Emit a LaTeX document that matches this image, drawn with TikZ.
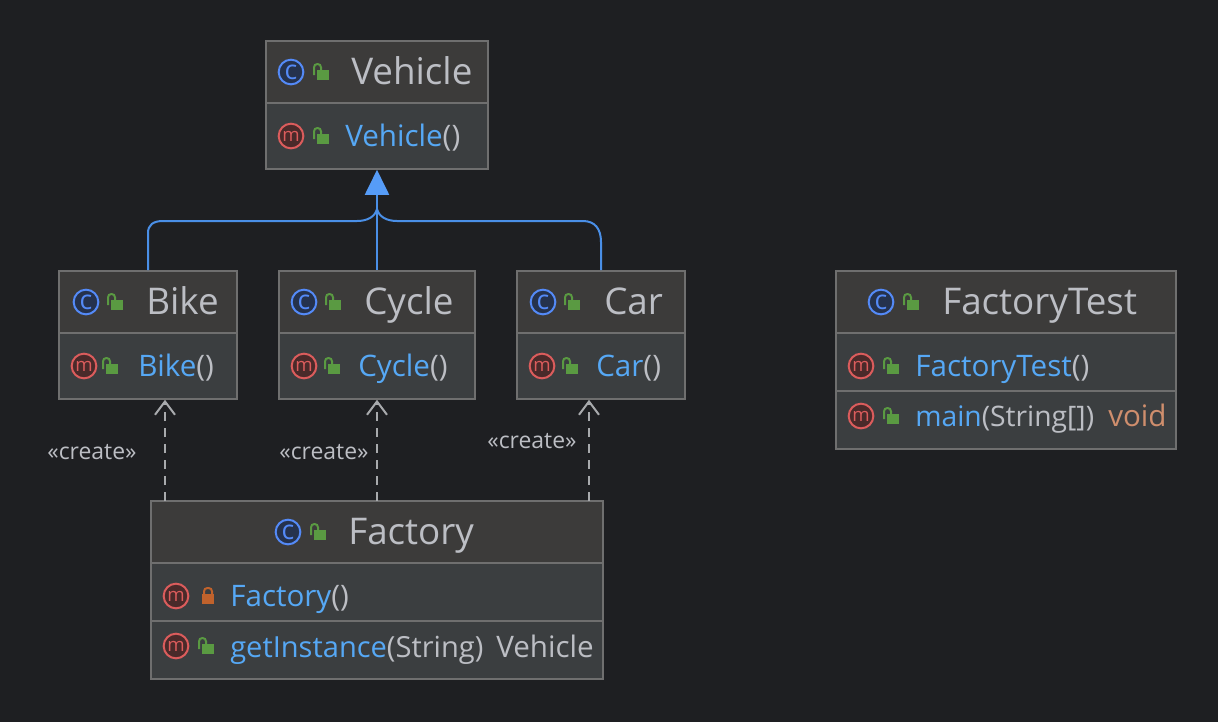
\documentclass[tikz,border=0pt]{standalone}
\usepackage{fontspec}
\usepackage{xcolor}
\usepackage{tikz}
\usetikzlibrary{arrows.meta,fit}
\setmainfont{Open Sans}

\definecolor{bgdark}{HTML}{1E1F22}
\definecolor{headfill}{HTML}{3C3B3A}
\definecolor{rowfill}{HTML}{3B3E40}
\definecolor{edgegray}{HTML}{6F6F6F}
\definecolor{plaintext}{HTML}{BCBEC4}
\definecolor{membertext}{HTML}{56A8F5}
\definecolor{voidtext}{HTML}{CF8E6D}
\definecolor{inherit}{HTML}{4A8FE7}
\definecolor{tipblue}{HTML}{569CF8}
\definecolor{dashgray}{HTML}{A8AAAD}
\definecolor{lockgreen}{HTML}{5A9A42}
\definecolor{lockorange}{HTML}{C0622C}
\definecolor{iconblue}{HTML}{548AF7}
\definecolor{iconbluefill}{HTML}{25324D}
\definecolor{iconred}{HTML}{DB5C5C}
\definecolor{iconredfill}{HTML}{4A2A2A}

\tikzset{
    headbox/.style={rectangle, draw=edgegray, fill=headfill, line width=1.2pt, inner sep=0pt},
    rowbox/.style={rectangle, draw=edgegray, fill=rowfill, line width=1.2pt, inner sep=0pt},
    titletxt/.style={anchor=base west, inner sep=0pt, text=plaintext, font=\fontsize{27.6}{30}\selectfont},
    membertxt/.style={anchor=base west, inner sep=0pt, text=membertext, font=\fontsize{22.2}{26}\selectfont},
    typetxt/.style={anchor=base west, inner sep=0pt, text=plaintext, font=\fontsize{22.2}{26}\selectfont},
    createtxt/.style={inner sep=0pt, text=plaintext, font=\fontsize{17.2}{20}\selectfont},
    classicon/.style={circle, draw=iconblue, fill=iconbluefill, line width=1.5pt, minimum size=18.5pt, inner sep=0pt, text=iconblue, font=\fontsize{20}{20}\selectfont},
    methodicon/.style={circle, draw=iconred, fill=iconredfill, line width=1.5pt, minimum size=18.5pt, inner sep=0pt, text=iconred, font=\fontsize{14}{14}\selectfont},
    extends/.style={draw=inherit, line width=1.5pt},
    creates/.style={draw=dashgray, line width=1.5pt, dash pattern=on 7pt off 5pt, -{Straight Barb[length=10pt,width=15pt,line width=1.5pt]}},
    openlock/.pic={
        \fill[lockgreen] (-4,-2) rectangle (8,8);
        \draw[lockgreen, line width=1.5pt, rounded corners=2.5pt] (-7,3) -- (-7,-8) -- (0,-8) -- (0,-2);
    },
    shutlock/.pic={
        \fill[lockorange] (-6,-2) rectangle (6,8);
        \draw[lockorange, line width=1.5pt, rounded corners=2.5pt] (-4,-2) -- (-4,-8) -- (4,-8) -- (4,-2);
    }
}

\begin{document}
\begin{tikzpicture}[x=0.75pt, y=-0.75pt]
    % Page
    \fill[bgdark] (0,0) rectangle (1218,722);
    \useasboundingbox (0,0) rectangle (1218,722);

    % Boxes
    \node[headbox, fit={(266,41) (488,103)}] (vehicle) {};
    \node[rowbox, fit={(266,103) (488,169)}] (vehiclem) {};
    \node[headbox, fit={(59,271) (237,333)}] (bike) {};
    \node[rowbox, fit={(59,333) (237,399)}] (bikem) {};
    \node[headbox, fit={(279,271) (475,333)}] (cycle) {};
    \node[rowbox, fit={(279,333) (475,399)}] (cyclem) {};
    \node[headbox, fit={(517,271) (685,333)}] (car) {};
    \node[rowbox, fit={(517,333) (685,399)}] (carm) {};
    \node[headbox, fit={(836,271) (1176,333)}] (test) {};
    \node[rowbox, fit={(836,333) (1176,391)}] (testm) {};
    \node[rowbox, fit={(836,391) (1176,449)}] (testmain) {};
    \node[headbox, fit={(151,501) (603,563)}] (factory) {};
    \node[rowbox, fit={(151,563) (603,621)}] (factorym) {};
    \node[rowbox, fit={(151,621) (603,679)}] (factoryget) {};

    % Vehicle
    \node[classicon] (vehicleic) at (291,72) {c};
    \pic at (321,72) {openlock};
    \node[titletxt] (vehiclet) at (351,84) {Vehicle};
    \node[methodicon] (vehiclemic) at (291,136) {m};
    \pic at (321,136) {openlock};
    \node[membertxt] (vehiclemt) at (345,146) {Vehicle\textcolor{plaintext}{()}};

    % Bike
    \node[classicon] (bikeic) at (86,302) {c};
    \pic at (115,302) {openlock};
    \node[titletxt] (biket) at (146,314) {Bike};
    \node[methodicon] (bikemic) at (84,366) {m};
    \pic at (110,366) {openlock};
    \node[membertxt] (bikemt) at (138,376) {Bike\textcolor{plaintext}{()}};

    % Cycle
    \node[classicon] (cycleic) at (304,302) {c};
    \pic at (333,302) {openlock};
    \node[titletxt] (cyclet) at (364,314) {Cycle};
    \node[methodicon] (cyclemic) at (304,366) {m};
    \pic at (332,366) {openlock};
    \node[membertxt] (cyclemt) at (358,376) {Cycle\textcolor{plaintext}{()}};

    % Car
    \node[classicon] (caric) at (543,302) {c};
    \pic at (572,302) {openlock};
    \node[titletxt] (cart) at (604,314) {Car};
    \node[methodicon] (carmic) at (542,366) {m};
    \pic at (570,366) {openlock};
    \node[membertxt] (carmt) at (596,376) {Car\textcolor{plaintext}{()}};

    % FactoryTest
    \node[classicon] (testic) at (881,302) {c};
    \pic at (911,302) {openlock};
    \node[titletxt] (testt) at (942,314) {FactoryTest};
    \node[methodicon] (testmic) at (861,366) {m};
    \pic at (891,366) {openlock};
    \node[membertxt] (testmt) at (915,376) {FactoryTest\textcolor{plaintext}{()}};
    \node[methodicon] (testmainic) at (861,416) {m};
    \pic at (891,416) {openlock};
    \node[membertxt, font=\fontsize{21.2}{26}\selectfont] (testmaint) at (915,426) {main\textcolor{plaintext}{(String[])}};
    \node[typetxt, text=voidtext] (testvoid) at (1108,426) {void};

    % Factory
    \node[classicon] (factoryic) at (288,532) {c};
    \pic at (318,532) {openlock};
    \node[titletxt] (factoryt) at (348,544) {Factory};
    \node[methodicon] (factorymic) at (176,596) {m};
    \pic at (208,596) {shutlock};
    \node[membertxt] (factorymt) at (230,606) {Factory\textcolor{plaintext}{()}};
    \node[methodicon] (factorygetic) at (176,646) {m};
    \pic at (206,646) {openlock};
    \node[membertxt, font=\fontsize{21.8}{26}\selectfont] (factorygett) at (230,657) {getInstance\textcolor{plaintext}{(String)}};
    \node[typetxt] (factorytype) at (496,657) {Vehicle};

    % Edges
    \coordinate (join) at (377,209);
    \draw[extends] (bike.north) -- (148,233) .. controls (148,225) and (153,221) .. (163,221) -- (357,221) .. controls (367,221) and (375,217) .. (join);
    \draw[extends] (car.north) -- (601,242) .. controls (601,229) and (595,221) .. (583,221) -- (397,221) .. controls (387,221) and (379,217) .. (join);
    \draw[extends, -{Triangle[length=18.75pt,width=18pt,fill=tipblue,color=tipblue]}] (cycle.north) -- (vehiclem.south);

    \coordinate (fbike) at (165,501);
    \coordinate (fcycle) at (377,501);
    \coordinate (fcar) at (589,501);
    \draw[creates] (fbike) -- (fbike |- bikem.south) ;
    \draw[creates] (fcycle) -- (cyclem.south);
    \draw[creates] (fcar) -- (fcar |- carm.south);

    % Stereotypes
    \node[createtxt] (bikelabel) at (92,452) {«create»};
    \node[createtxt] (cyclelabel) at (324,452) {«create»};
    \node[createtxt] (carlabel) at (532,441) {«create»};
\end{tikzpicture}
\end{document}
